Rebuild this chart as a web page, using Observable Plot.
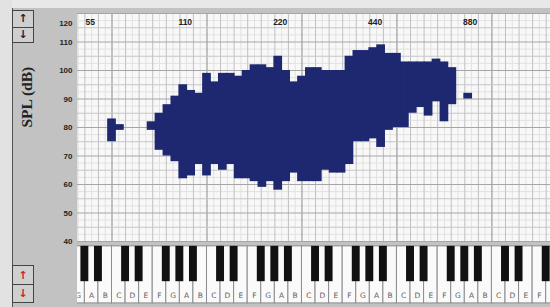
<!DOCTYPE html>
<html><head><meta charset="utf-8">
<script src="https://cdn.jsdelivr.net/npm/d3@7"></script>
<script src="https://cdn.jsdelivr.net/npm/@observablehq/plot@0.6"></script>
<style>
html,body{margin:0;padding:0;background:#fff}
#wrap{position:relative;width:550px;height:307px;overflow:hidden;background:#c2c2c2}
#wrap svg{position:absolute;left:0;background:transparent;overflow:visible}
.strip{position:absolute;left:0;top:0;width:12px;height:307px;background:#e2e2e2}
.topstrip{position:absolute;left:0;top:0;width:550px;height:8px;background:#e8e8e8}
.vline{position:absolute;left:12px;top:8px;width:1px;height:299px;background:#555}
.btnbox{position:absolute;left:12px;width:22px;border:1px solid #444;background:#cfcfcf;box-sizing:border-box}
.btn{height:50%;box-sizing:border-box;display:flex;align-items:center;justify-content:center;font:bold 11px "DejaVu Sans",sans-serif}
.btn+.btn{border-top:1px solid #444}
</style></head><body>
<div id="wrap">
  <div class="topstrip"></div>
  <div class="strip"></div>
  <div class="vline"></div>
  <div class="btnbox" style="top:10px;height:33px"><div class="btn" style="color:#223">↑</div><div class="btn" style="color:#223">↓</div></div>
  <div class="btnbox" style="top:265px;height:38px"><div class="btn" style="color:#d02020">↑</div><div class="btn" style="color:#d02020">↓</div></div>
</div>
<script>
// Voice range profile: semitone columns (MIDI note numbers) with lowest / highest SPL in dB
const notes = [36,37,41,42,43,44,45,46,47,48,49,50,51,52,53,54,55,56,57,58,59,60,61,62,63,64,65,66,67,68,69,70,71,72,73,74,75,76,77,78,79,81];
const lows  = [75,79,79,72,70,68,62,63,67,63,67,65,67,62,62,61,59,61,58,61,64,61,61,61,65,64,64,67,75,75,76,73,79,80,80,85,87,84,89,82,88,90];
const highs = [83,81,82,85,88,91,95,93,92,99,96,99,99,98,100,102,102,101,105,100,96,98,101,101,100,100,100,105,107,107,108,109,106,106,103,103,103,103,104,103,101,92];
const dbTicks = [40,50,60,70,80,90,100,110];
const dbTop = 120;
const freqLabels = [55,110,220,440,880];
const whiteNames = ["C","D","E","F","G","A","B"];
const octaves = [1,2,3,4,5,6];
const redNote = "C4";
const yLabel = "SPL (dB)";

const xDomain = [31.64, 91.4];
const cells = notes.map((n,i)=>({n, lo: lows[i], hi: highs[i]}));
const midiOf = f => 69 + 12*Math.log2(f/440);

const whiteKeys = [];
const blackKeys = [];
for (const o of octaves) {
  const c = 12*(o+1);
  whiteNames.forEach((nm,i)=>{
    whiteKeys.push({x1: c + i*12/7, x2: c + (i+1)*12/7, name: nm, oct: o});
    if (i===1||i===2||i===4||i===5||i===6) blackKeys.push({x: c + i*12/7});
  });
}
const wk = whiteKeys.filter(k=>k.x2>xDomain[0] && k.x1<xDomain[1]);
const wkText = wk.filter(k=>(k.x1+k.x2)/2 < xDomain[1]-0.3);
const bk = blackKeys.filter(k=>k.x>xDomain[0]-0.5 && k.x<xDomain[1]+0.5);
const bounds = wk.map(k=>({x:k.x1, c:k.name==="C"}));
const mids = wk.map(k=>(k.x1+k.x2)/2);
const fine = d3.range(40,121,5);
const sub = d3.range(42.5,120,5);

const chart = Plot.plot({
  width: 550, height: 243,
  marginLeft: 77, marginRight: 0, marginTop: 13, marginBottom: 2,
  x: {domain: xDomain, axis: null},
  y: {domain: [40, 120], axis: null},
  style: {background: "transparent"},
  marks: [
    Plot.frame({fill: "#f8f8f8", stroke: null}),
    Plot.ruleX(mids, {x: d=>d, stroke: "#e2e2e2", clip: true}),
    Plot.ruleY(sub, {y: d=>d, stroke: "#e2e2e2"}),
    Plot.ruleX(bounds.filter(d=>!d.c), {x: "x", stroke: "#c0c0c0", clip: true}),
    Plot.ruleX(bounds.filter(d=>d.c), {x: "x", stroke: "#8a8a8a", clip: true}),
    Plot.ruleY(fine.filter(d=>d%10!==0), {y: d=>d, stroke: "#c6c6c6"}),
    Plot.ruleY(fine.filter(d=>d%10===0), {y: d=>d, stroke: "#a6a6a6"}),
    Plot.rect(cells, {x1: d=>d.n-0.5, x2: d=>d.n+0.5, y1: "lo", y2: "hi", fill: "#1e2870", insetLeft: -0.4, insetRight: -0.4}),
    Plot.text(dbTicks, {y: d=>d, frameAnchor: "left", dx: -5, textAnchor: "end", text: d=>String(d), fontSize: 8, fontWeight: "bold", fontFamily: "Liberation Sans, sans-serif", fill: "#222"}),
    Plot.text([dbTop], {frameAnchor: "top-left", dx: -5, dy: 7, textAnchor: "end", text: d=>String(d), fontSize: 8, fontWeight: "bold", fontFamily: "Liberation Sans, sans-serif", fill: "#222"}),
    Plot.text(freqLabels, {x: f=>midiOf(f), frameAnchor: "top", dy: 5, dx: 2, text: d=>String(d), fontSize: 8.5, fontWeight: "bold", fontFamily: "Liberation Sans, sans-serif", fill: "#222"}),
    Plot.text([yLabel], {frameAnchor: "left", dx: -50, rotate: -90, fontSize: 15.5, fontWeight: "bold", fontFamily: "Liberation Serif, serif", fill: "#222"})
  ]
});
chart.style.top = "0px";

const keys = Plot.plot({
  width: 550, height: 62,
  marginLeft: 77, marginRight: 0, marginTop: 0, marginBottom: 0,
  x: {domain: xDomain, axis: null},
  y: {domain: [0, 1], range: [0, 62], axis: null},
  style: {background: "transparent"},
  marks: [
    Plot.rect(wk, {x1: "x1", x2: "x2", y1: 0.03, y2: 0.95, fill: "#fafafa", stroke: "#8c8c8c", strokeWidth: 1, clip: true}),
    Plot.rect(bk, {x1: d=>d.x-0.5, x2: d=>d.x+0.5, y1: 0.03, y2: 0.6, fill: "#111", clip: true}),
    Plot.text(wkText, {x: d=>(d.x1+d.x2)/2, y: 0.83, text: "name", fontSize: 7.5, fontFamily: "DejaVu Sans, sans-serif", fill: d=>(d.name+d.oct)===redNote ? "#d02020" : "#5e5e5e", clip: true})
  ]
});
keys.style.top = "244px";
keys.style.overflow = "hidden";

const wrap = document.getElementById("wrap");
wrap.insertBefore(chart, wrap.firstChild.nextSibling);
wrap.appendChild(keys);
</script>
</body></html>
